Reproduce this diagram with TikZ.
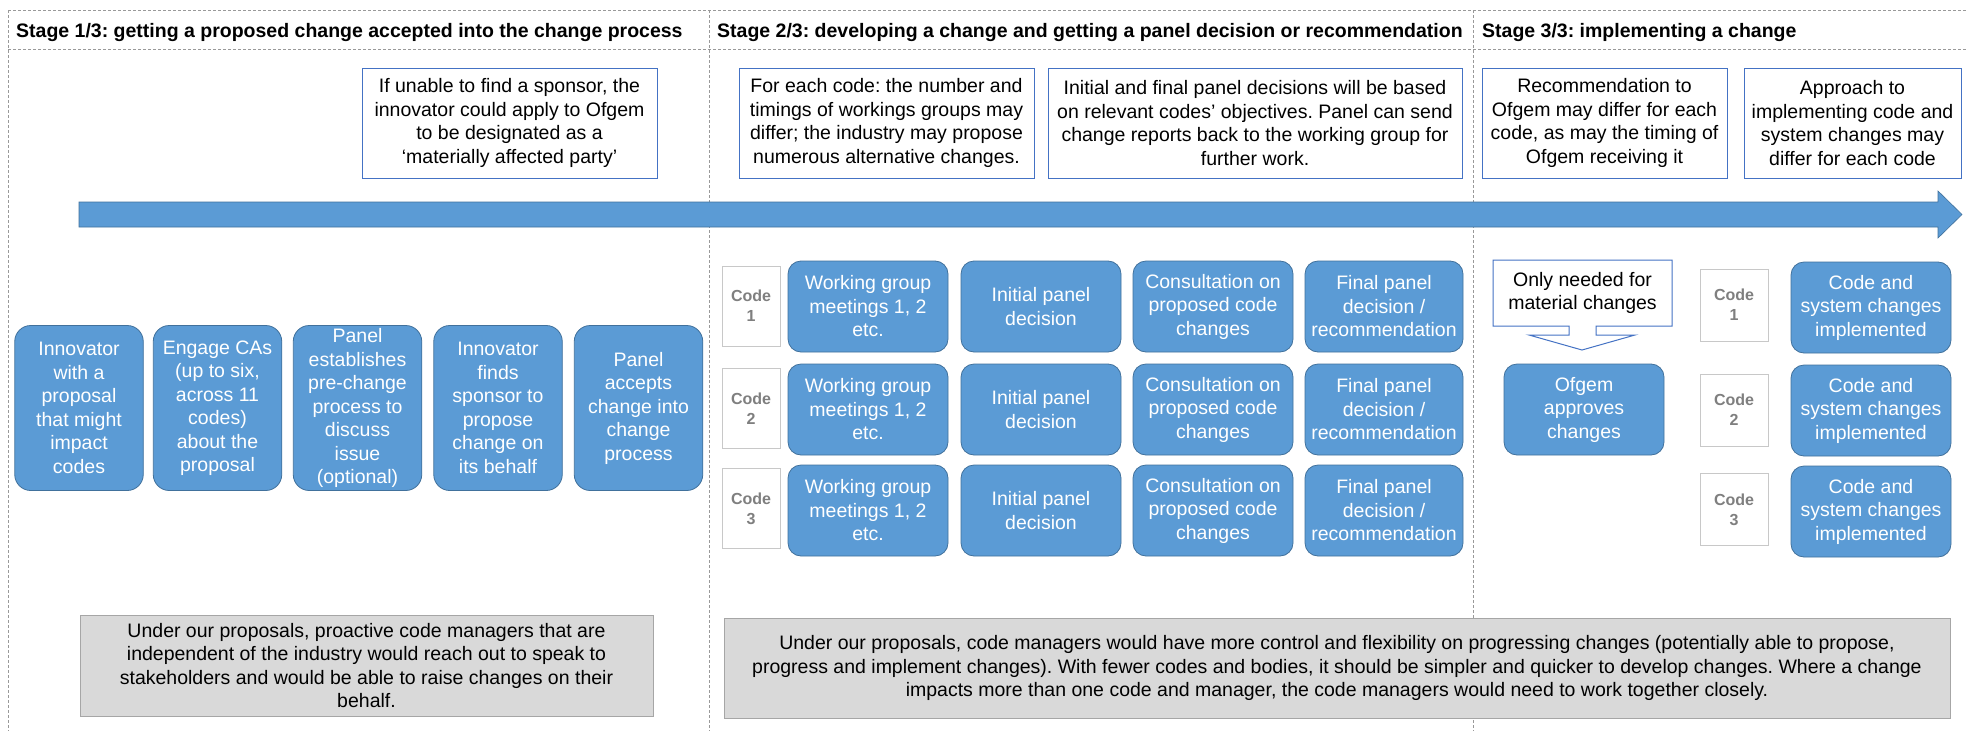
\documentclass[tikz,border=0pt]{standalone}
\usepackage{fontspec}
\setmainfont{Liberation Sans}
\frenchspacing
\definecolor{boxblue}{HTML}{5B9BD5}
\definecolor{boxedge}{HTML}{41719C}
\definecolor{noteedge}{HTML}{4472C4}
\definecolor{codeedge}{HTML}{C8C8C8}
\definecolor{codetext}{HTML}{7F7F7F}
\definecolor{greyfill}{HTML}{D9D9D9}
\definecolor{greyedge}{HTML}{A6A6A6}
\definecolor{framegrey}{HTML}{999999}
\newcommand\txtfont{\fontsize{19.5}{23.5}\selectfont}
\newcommand\gtxtfont{\fontsize{19.5}{23.5}\selectfont}
\newcommand\codefont{\fontsize{16}{20}\selectfont\bfseries}
\newcommand\headfont{\fontsize{19.5}{23}\selectfont\bfseries}
\begin{document}
\begin{tikzpicture}[x=1pt,y=-1pt,
  bluebox/.style={draw=boxedge, fill=boxblue, line width=0.8pt, rounded corners=13pt,
     text=white, align=center, font=\txtfont, inner sep=0pt},
  bigbox/.style={bluebox, rounded corners=16pt, minimum width=128.5pt, minimum height=165pt},
  gridbox/.style={bluebox, minimum width=160pt, minimum height=91pt},
  notebox/.style={draw=noteedge, fill=white, line width=1pt, align=center, font=\txtfont,
     inner sep=0pt, minimum height=110pt},
  codelbl/.style={draw=codeedge, fill=white, line width=1pt, text=codetext, font=\codefont,
     align=center, inner sep=0pt},
  greybox/.style={draw=greyedge, fill=greyfill, line width=0.8pt, align=center, font=\gtxtfont,
     inner sep=0pt},
  header/.style={font=\headfont, anchor=west, inner sep=0pt},
  frameline/.style={draw=framegrey, line width=0.9pt, dash pattern=on 3pt off 2pt},
]
\useasboundingbox (0,0) rectangle (1968,731);
\fill[white] (0,0) rectangle (1968,731);

% frame
\draw[frameline] (8,10) -- (1968,10);
\draw[frameline] (8,49) -- (1968,49);
\draw[frameline] (8,10) -- (8,731);
\draw[frameline] (709,10) -- (709,731);
\draw[frameline] (1473,10) -- (1473,731);

% headers
\node[header] (h1) at (16,32) {Stage 1/3: getting a proposed change accepted into the change process};
\node[header] (h2) at (717,32) {Stage 2/3: developing a change and getting a panel decision or recommendation};
\node[header] (h3) at (1482,32) {Stage 3/3: implementing a change};

% notes
\node[notebox, minimum width=295pt] (n1) at (509.5,123) {If unable to find a sponsor, the\\innovator could apply to Ofgem\\to be designated as a\\‘materially affected party’};
\node[notebox, minimum width=295pt] (n2) at (886.5,123) {For each code: the number and\\timings of workings groups may\\differ; the industry may propose\\numerous alternative changes.};
\node[notebox, minimum width=414pt] (n3) at (1255,123) {Initial and final panel decisions will be based\\on relevant codes’ objectives. Panel can send\\change reports back to the working group for\\further work.};
\node[notebox, minimum width=245pt] (n4) at (1604.5,123) {Recommendation to\\Ofgem may differ for each\\code, as may the timing of\\Ofgem receiving it};
\node[notebox, minimum width=217pt] (n5) at (1852.5,123) {Approach to\\implementing code and\\system changes may\\differ for each code};

% big timeline arrow
\filldraw[fill=boxblue, draw=boxedge, line width=0.6pt]
  (79,202) -- (1938,202) -- (1938,191) -- (1962,214.5) -- (1938,238) -- (1938,227) -- (79,227) -- cycle;

% stage 1 boxes
\node[bigbox] (b1) at (79,408) {Innovator\\with a\\proposal\\that might\\impact\\codes};
\node[bigbox] (b2) at (217.5,408) {Engage CAs\\(up to six,\\across 11\\codes)\\about the\\proposal};
\node[bigbox] (b3) at (357.5,408) {Panel\\establishes\\pre-change\\process to\\discuss\\issue\\(optional)};
\node[bigbox] (b4) at (498,408) {Innovator\\finds\\sponsor to\\propose\\change on\\its behalf};
\node[bigbox] (b5) at (638.5,408) {Panel\\accepts\\change into\\change\\process};

% stage 2 grid
\foreach \r/\y/\cy in {1/306.5/306, 2/409.5/408.5, 3/510.5/508.5} {
  \node[codelbl, minimum width=58pt, minimum height=80pt] (c2\r) at (751,\cy) {Code\\\r};
  \node[gridbox] (wg\r) at (868,\y) {Working group\\meetings 1, 2\\etc.};
  \node[gridbox] (ip\r) at (1041,\y) {Initial panel\\decision};
  \node[gridbox] (cs\r) at (1213,\y) {Consultation on\\proposed code\\changes};
  \node[gridbox, minimum width=158pt] (fp\r) at (1384,\y) {Final panel\\decision /\\recommendation};
}

% stage 3
\filldraw[fill=white, draw=noteedge, line width=1pt]
  (1493,260) -- (1672,260) -- (1672,326) -- (1596,326) -- (1596,335) -- (1635,335)
  -- (1582,350) -- (1529,335) -- (1569,335) -- (1569,326) -- (1493,326) -- cycle;
\node[font=\txtfont, align=center, inner sep=0pt] (call) at (1582.5,293) {Only needed for\\material changes};
\node[gridbox] (ofg) at (1584,409.5) {Ofgem\\approves\\changes};

\foreach \r/\cy/\y in {1/305/307.5, 2/410/410.5, 3/509.5/511.5} {
  \node[codelbl, minimum width=68pt, minimum height=72pt] (c3\r) at (1734,\cy) {Code\\\r};
  \node[gridbox] (im\r) at (1871,\y) {Code and\\system changes\\implemented};
}

% bottom grey boxes
\node[greybox, minimum width=573pt, minimum height=101pt] (g1) at (366.5,665.5)
  {Under our proposals, proactive code managers that are\\independent of the industry would reach out to speak to\\stakeholders and would be able to raise changes on their\\behalf.};
\node[greybox, minimum width=1226pt, minimum height=100pt] (g2) at (1337,668)
  {Under our proposals, code managers would have more control and flexibility on progressing changes (potentially able to propose,\\progress and implement changes). With fewer codes and bodies, it should be simpler and quicker to develop changes. Where a change\\impacts more than one code and manager, the code managers would need to work together closely.};
\end{tikzpicture}
\end{document}
